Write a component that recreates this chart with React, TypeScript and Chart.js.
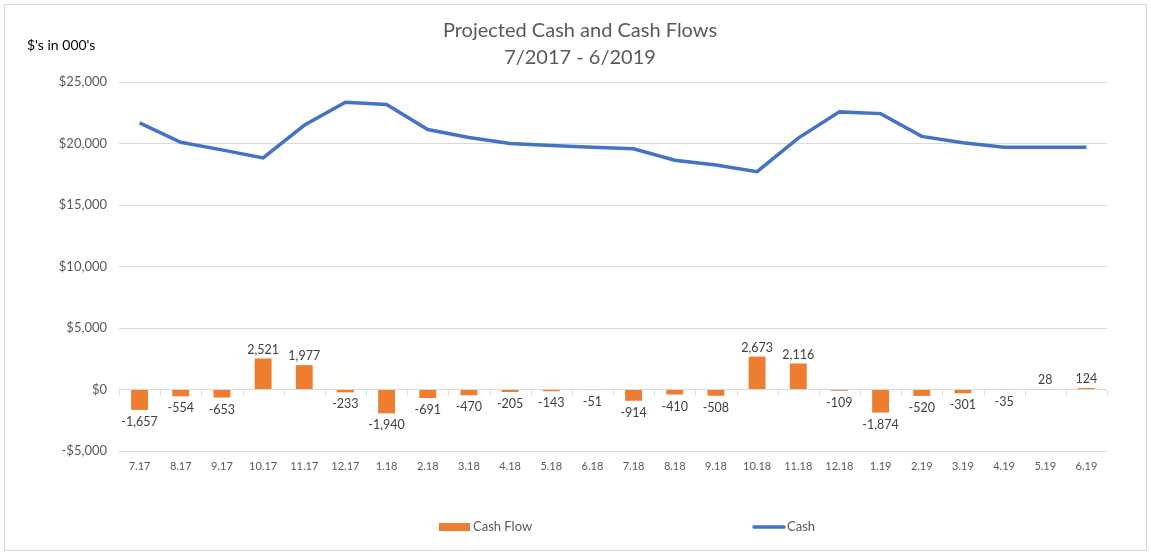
import React, { useEffect, useRef } from "react";
import { Chart, registerables } from "chart.js";
Chart.register(...registerables);

const categories = ["7.17", "8.17", "9.17", "10.17", "11.17", "12.17", "1.18", "2.18", "3.18", "4.18", "5.18", "6.18", "7.18", "8.18", "9.18", "10.18", "11.18", "12.18", "1.19", "2.19", "3.19", "4.19", "5.19", "6.19"];
const cashFlow = [-1657, -554, -653, 2521, 1977, -233, -1940, -691, -470, -205, -143, -51, -914, -410, -508, 2673, 2116, -109, -1874, -520, -301, -35, 28, 124];
const cash = [21670, 20100, 19480, 18830, 21480, 23350, 23170, 21140, 20490, 20000, 19840, 19700, 19570, 18640, 18260, 17710, 20440, 22570, 22430, 20580, 20060, 19700, 19700, 19700];
const yTicks = [-5000, 0, 5000, 10000, 15000, 20000, 25000];
const titleLines = ["Projected Cash and Cash Flows", "7/2017 - 6/2019"];
const yAxisTitle = "$'s in 000's";
const seriesNames = ["Cash Flow", "Cash"];

const FONT = "Lato, 'Open Sans', sans-serif";
const ORANGE = "#ED7D31";
const BLUE = "#4472C4";

const fmtNum = (v: number) => v.toLocaleString("en-US");
const fmtMoney = (v: number) => (v < 0 ? "-$" : "$") + Math.abs(v).toLocaleString("en-US");

const extrasPlugin = {
  id: "extras",
  afterDatasetsDraw(chart: any) {
    const ctx = chart.ctx;
    const y = chart.scales.y;
    const area = chart.chartArea;
    ctx.save();
    const zeroY = Math.round(y.getPixelForValue(0)) + 0.5;
    ctx.strokeStyle = "#d9d9d9";
    ctx.lineWidth = 1;
    const n = categories.length;
    const step = (area.right - area.left) / n;
    for (let i = 0; i <= n; i++) {
      const px = Math.round(area.left + i * step) + 0.5;
      ctx.beginPath();
      ctx.moveTo(px, zeroY);
      ctx.lineTo(px, zeroY + 5);
      ctx.stroke();
    }
    const meta = chart.getDatasetMeta(0);
    ctx.font = `12.5px ${FONT}`;
    ctx.fillStyle = "#404040";
    ctx.textAlign = "center";
    ctx.textBaseline = "middle";
    meta.data.forEach((el: any, i: number) => {
      const v = cashFlow[i];
      const ly = v >= 0 ? el.y - 9 : el.y + 12;
      ctx.fillText(fmtNum(v), el.x, ly);
    });
    ctx.restore();
  },
  afterDraw(chart: any) {
    const ctx = chart.ctx;
    ctx.save();
    ctx.fillStyle = "#595959";
    ctx.font = `20px ${FONT}`;
    ctx.textAlign = "center";
    ctx.textBaseline = "middle";
    ctx.fillText(titleLines[0], 575, 26);
    ctx.fillText(titleLines[1], 575, 53);
    ctx.fillStyle = "#000000";
    ctx.font = `14px ${FONT}`;
    ctx.textAlign = "left";
    ctx.fillText(yAxisTitle, 22, 40);
    ctx.font = `13px ${FONT}`;
    ctx.fillStyle = ORANGE;
    ctx.fillRect(434, 518, 31, 8);
    ctx.fillStyle = "#595959";
    ctx.fillText(seriesNames[0], 468, 522);
    ctx.strokeStyle = BLUE;
    ctx.lineWidth = 3.5;
    ctx.lineCap = "round";
    ctx.beginPath();
    ctx.moveTo(749, 522);
    ctx.lineTo(779, 522);
    ctx.stroke();
    ctx.fillText(seriesNames[1], 782, 522);
    ctx.restore();
  },
};

export default function App() {
  const ref = useRef<HTMLCanvasElement | null>(null);
  useEffect(() => {
    if (!ref.current) return;
    const chart = new Chart(ref.current, {
      type: "bar",
      data: {
        labels: categories,
        datasets: [
          {
            type: "bar",
            label: seriesNames[0],
            data: cashFlow,
            backgroundColor: ORANGE,
            barPercentage: 0.41,
            categoryPercentage: 1,
            order: 2,
          },
          {
            type: "line",
            label: seriesNames[1],
            data: cash,
            borderColor: BLUE,
            backgroundColor: BLUE,
            borderWidth: 3.5,
            pointRadius: 0,
            tension: 0,
            order: 1,
          } as any,
        ],
      },
      options: {
        animation: false,
        responsive: true,
        maintainAspectRatio: false,
        layout: { padding: { left: 0, right: 39, top: 77, bottom: 69 } },
        plugins: { legend: { display: false }, title: { display: false }, tooltip: { enabled: false } },
        scales: {
          x: {
            grid: { display: false, drawTicks: false },
            border: { display: false },
            ticks: { color: "#595959", font: { size: 11, family: FONT }, padding: 9, maxRotation: 0, autoSkip: false },
            afterFit: (s: any) => { s.height = 30; },
          },
          y: {
            min: -5000,
            max: 25000,
            afterBuildTicks: (s: any) => { s.ticks = yTicks.map((v) => ({ value: v })); },
            grid: { color: "#d9d9d9", drawTicks: false, lineWidth: 1 },
            border: { display: false },
            ticks: { color: "#595959", font: { size: 13, family: FONT }, padding: 12, callback: (v: any) => fmtMoney(Number(v)) },
            afterFit: (s: any) => { s.width = 114; },
          },
        },
      },
      plugins: [extrasPlugin],
    });
    return () => chart.destroy();
  }, []);
  return (
    <div style={{ position: "absolute", left: 4, top: 4, width: 1141, height: 545, border: "1px solid #d9d9d9", background: "#fff" }}>
      <canvas ref={ref} />
    </div>
  );
}
